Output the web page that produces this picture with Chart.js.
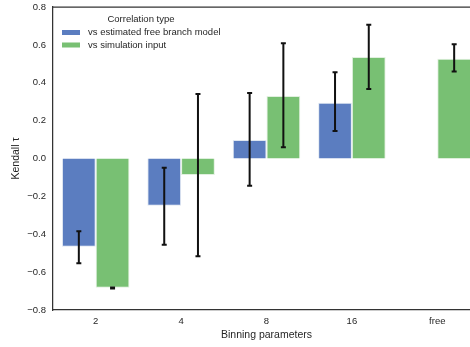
<!DOCTYPE html>
<html>
<head>
<meta charset="utf-8">
<script src="https://cdn.jsdelivr.net/npm/chart.js@4"></script>
<style>
  html, body { margin: 0; padding: 0; background: #fff; overflow: hidden; }
  #wrap { position: relative; width: 480px; height: 347px; }
</style>
</head>
<body>
<div id="wrap"><canvas id="chart"></canvas></div>
<script>
// values
const categories = ['2', '4', '8', '16', 'free'];
const seriesNames = ['vs estimated free branch model', 'vs simulation input'];
const freeBranch = [-0.466, -0.249, 0.098, 0.295, null];
const freeBranchLow = [-0.553, -0.455, -0.144, 0.145, null];
const freeBranchHigh = [-0.384, -0.049, 0.346, 0.455, null];
const simInput = [-0.682, -0.087, 0.330, 0.536, 0.527];
const simInputLow = [-0.687, -0.516, 0.059, 0.367, 0.460];
const simInputHigh = [-0.681, 0.340, 0.608, 0.706, 0.603];

const FONT = '"Liberation Sans", Arial, sans-serif';
const TEXT = '#262626';
const BLUE = '#5b7dc0';
const GREEN = '#78c073';

// error bars drawn on top of each bar through the y scale
const errorBars = {
  id: 'errorBars',
  afterDatasetsDraw(chart) {
    const { ctx, scales: { y } } = chart;
    const ranges = [[freeBranchLow, freeBranchHigh], [simInputLow, simInputHigh]];
    ctx.save();
    ctx.strokeStyle = '#111';
    ctx.lineWidth = 2;
    ranges.forEach(([lo, hi], di) => {
      chart.getDatasetMeta(di).data.forEach((bar, i) => {
        if (lo[i] == null) return;
        const x = bar.x;
        const y0 = y.getPixelForValue(lo[i]);
        const y1 = y.getPixelForValue(hi[i]);
        ctx.beginPath();
        ctx.moveTo(x, y0); ctx.lineTo(x, y1);
        ctx.moveTo(x - 2.5, y0); ctx.lineTo(x + 2.5, y0);
        ctx.moveTo(x - 2.5, y1); ctx.lineTo(x + 2.5, y1);
        ctx.stroke();
      });
    });
    ctx.restore();
  }
};

// top spine + legend inside the plot
const frameAndLegend = {
  id: 'frameAndLegend',
  afterDraw(chart) {
    const { ctx, chartArea: a } = chart;
    ctx.save();
    ctx.strokeStyle = '#333';
    ctx.lineWidth = 1.25;
    ctx.beginPath();
    ctx.moveTo(a.left, a.top); ctx.lineTo(a.right, a.top);
    ctx.stroke();

    ctx.fillStyle = TEXT;
    ctx.font = '9.5px ' + FONT;
    ctx.textBaseline = 'middle';
    ctx.textAlign = 'center';
    ctx.fillText('Correlation type', 141, 19.5);
    ctx.textAlign = 'left';
    [BLUE, GREEN].forEach((c, i) => {
      const cy = 32.5 + i * 12.5;
      ctx.fillStyle = c;
      ctx.fillRect(62, cy - 2.5, 18, 5);
      ctx.fillStyle = TEXT;
      ctx.fillText(seriesNames[i], 88, cy);
    });
    ctx.restore();
  }
};

new Chart(document.getElementById('chart'), {
  type: 'bar',
  data: {
    labels: categories,
    datasets: [
      { label: seriesNames[0], data: freeBranch, backgroundColor: BLUE, borderColor: 'rgba(220,228,240,0.9)', borderWidth: 1 },
      { label: seriesNames[1], data: simInput, backgroundColor: GREEN, borderColor: 'rgba(222,238,220,0.9)', borderWidth: 1 }
    ]
  },
  options: {
    responsive: true,
    maintainAspectRatio: false,
    animation: false,
    events: [],
    layout: { padding: 0 },
    datasets: { bar: { categoryPercentage: 0.79, barPercentage: 1.0 } },
    plugins: { legend: { display: false }, tooltip: { enabled: false } },
    scales: {
      x: {
        grid: { display: false, drawTicks: false, tickLength: 0 },
        border: { display: true, color: '#333', width: 1.25 },
        ticks: { color: TEXT, font: { family: FONT, size: 9.5 }, padding: 6 },
        title: { display: true, text: 'Binning parameters', color: TEXT, font: { family: FONT, size: 10.5 }, padding: { top: 2, bottom: 6 } },
        afterFit(s) { s.height = 37; }
      },
      y: {
        min: -0.8, max: 0.8,
        grid: { display: false, drawTicks: false, tickLength: 0 },
        border: { display: true, color: '#333', width: 1.25 },
        ticks: {
          stepSize: 0.2, color: TEXT, font: { family: FONT, size: 9.5 }, padding: 7,
          callback: v => (Math.abs(v) < 1e-9 ? 0 : v).toFixed(1).replace('-', '\u2212')
        },
        title: { display: true, text: 'Kendall \u03c4', color: TEXT, font: { family: FONT, size: 10.5 }, padding: { top: 10, bottom: 0 } },
        afterFit(s) { s.width = 53; s.paddingTop = 7; }
      }
    }
  },
  plugins: [errorBars, frameAndLegend]
});
</script>
</body>
</html>
